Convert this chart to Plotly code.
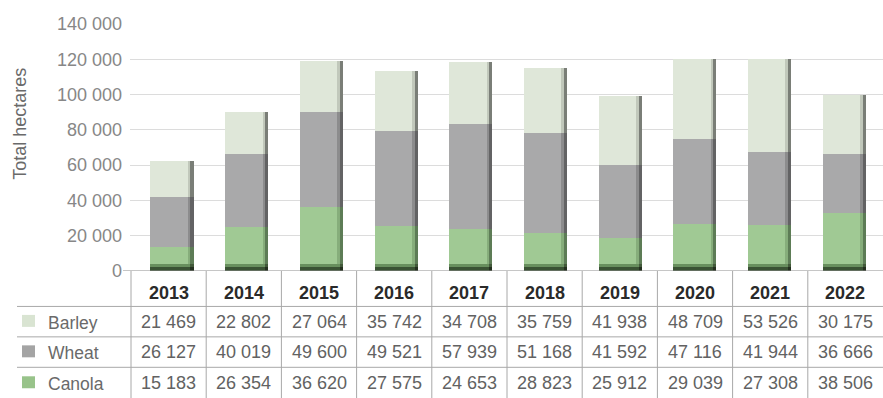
import plotly.graph_objects as go

years = ["2013", "2014", "2015", "2016", "2017", "2018", "2019", "2020", "2021", "2022"]

# values printed in the table
canola = [15183, 26354, 36620, 27575, 24653, 28823, 25912, 29039, 27308, 38506]
wheat = [26127, 40019, 49600, 49521, 57939, 51168, 41592, 47116, 41944, 36666]
barley = [21469, 22802, 27064, 35742, 34708, 35759, 41938, 48709, 53526, 30175]

# segment heights as drawn in the bars of the picture
bar_canola = [13500, 25100, 36300, 25500, 24000, 21700, 18900, 26400, 26000, 33100]
bar_wheat = [28400, 41500, 53900, 53600, 59600, 56300, 41000, 48700, 41700, 33500]
bar_barley = [20500, 23300, 29000, 34400, 34700, 36900, 39400, 45100, 52500, 33100]

series = [
    # name, bar values, main colour, legend colour, side shades
    ("Canola", bar_canola, "#a0c994", "#98c38a", ["#86ad7b", "#5d7c56"]),
    ("Wheat", bar_wheat, "#a9a9aa", "#a4a4a4", ["#8c8c8d", "#636364"]),
    ("Barley", bar_barley, "#dfe7d9", "#d9e4d2", ["#c1c8bb", "#7a7e77"]),
]
table_rows = [("Barley", barley, "#d9e4d2"), ("Wheat", wheat, "#a4a4a4"), ("Canola", canola, "#98c38a")]

# layout geometry in pixels
W, H = 883, 398
L, R, T, B = 130, 0, 24, 126.5
PW, PH = W - L - R, H - T - B


def yp(py):
    return (H - B - py) / PH


def xp(px):
    return (px - L) / PW


xs = list(range(len(years)))
fig = go.Figure()

bw = 0.576
left = -bw / 2
bottom = [0] * len(years)
for name, vals, main, leg, sides in series:
    strips = [(left, 0.50, main), (left + 0.50, 0.035, sides[0]), (left + 0.535, bw - 0.535, sides[1])]
    for off, wd, col in strips:
        fig.add_trace(go.Bar(
            x=xs, y=vals, base=bottom, offset=off, width=wd,
            marker=dict(color=col, line=dict(width=0)),
            hoverinfo="skip", showlegend=False,
        ))
    bottom = [b + v for b, v in zip(bottom, vals)]

# dark floor shading at the foot of each bar
for h, cols in [(4200, ("#688f5e", "#42593a")), (2300, ("#3a5234", "#24301f"))]:
    for off, wd, col in [(left, 0.535, cols[0]), (left + 0.535, bw - 0.535, cols[1])]:
        fig.add_trace(go.Bar(
            x=xs, y=[h] * len(years), base=[0] * len(years), offset=off, width=wd,
            marker=dict(color=col, line=dict(width=0)),
            hoverinfo="skip", showlegend=False,
        ))

shapes = []
annotations = []

line_col = "#a8a8a8"
col0, colw = 131, 75.2
# vertical table lines at column boundaries
for k in range(len(years)):
    bx = col0 + colw * k
    shapes.append(dict(type="line", xref="paper", yref="paper", x0=xp(bx), x1=xp(bx),
                       y0=yp(271.5), y1=yp(H + 2), line=dict(color=line_col, width=1)))
# horizontal table lines
for py in [307, 337.5, 368]:
    shapes.append(dict(type="line", xref="paper", yref="paper", x0=xp(17), x1=xp(W + 2),
                       y0=yp(py), y1=yp(py), line=dict(color=line_col, width=1)))

# header row
for i, yr in enumerate(years):
    cx = col0 + colw * (i + 0.5)
    annotations.append(dict(x=xp(cx), xref="paper", y=yp(294), yref="paper", text="<b>%s</b>" % yr,
                            xanchor="center", yanchor="middle",
                            showarrow=False, font=dict(size=18, color="#2a2a2a")))

row_centres = [322.5, 353, 384]
for (name, vals, leg), cy in zip(table_rows, row_centres):
    shapes.append(dict(type="rect", xref="paper", yref="paper", x0=xp(22), x1=xp(35),
                       y0=yp(cy - 7), y1=yp(cy + 5), fillcolor=leg, line=dict(width=0)))
    annotations.append(dict(x=xp(46), xref="paper", y=yp(cy + 1), yref="paper", text=name,
                            xanchor="left", yanchor="middle", showarrow=False,
                            font=dict(size=17.5, color="#6a6a6a")))
    for i, v in enumerate(vals):
        cx = col0 + colw * (i + 0.5)
        annotations.append(dict(x=xp(cx), xref="paper", y=yp(cy), yref="paper",
                                text=f"{v:,}".replace(",", " "), showarrow=False,
                                xanchor="center", yanchor="middle",
                                font=dict(size=18, color="#626262")))

annotations.append(dict(x=xp(20), xref="paper", y=yp(124), yref="paper", text="Total hectares",
                        textangle=-90, xanchor="center", yanchor="middle", showarrow=False,
                        font=dict(size=18, color="#6a6a6a")))

# bar spacing in the picture: centres at 172 px + 74.7 px per year
x_lo = (L - 172) / 74.7
x_hi = (W - 172) / 74.7

fig.update_layout(
    width=W, height=H,
    margin=dict(l=L, r=R, t=T, b=B),
    barmode="overlay",
    bargap=0,
    plot_bgcolor="white", paper_bgcolor="white",
    font=dict(family="Liberation Sans, Arial, sans-serif"),
    separators=". ",
    xaxis=dict(range=[x_lo, x_hi], showticklabels=False,
               showgrid=False, zeroline=False, showline=False, fixedrange=True),
    yaxis=dict(range=[0, 140000], dtick=20000, tickformat=",d", showgrid=True,
               gridcolor="#dcdcdc", gridwidth=1, zeroline=False,
               ticks="", ticklabelstandoff=7,
               tickfont=dict(size=18, color="#878787"), fixedrange=True),
    shapes=shapes,
    annotations=annotations,
)
# zero line, extended a little to the left as in the reference
fig.add_shape(type="line", xref="paper", yref="y", x0=xp(123), x1=1, y0=0, y1=0,
              line=dict(color="#8c8c8c", width=1), layer="above")

fig.write_html("out.html", config={"displayModeBar": False})
